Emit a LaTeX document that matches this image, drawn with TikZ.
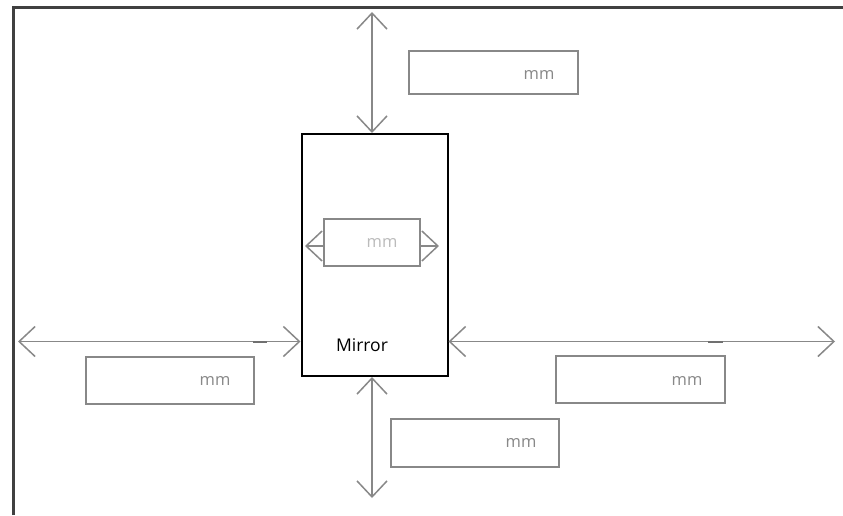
\documentclass[tikz,border=0pt]{standalone}
\usepackage{fontspec}
\setmainfont{Open Sans}
\usetikzlibrary{arrows.meta}
\definecolor{dimgray}{HTML}{888888}
\definecolor{framegray}{HTML}{404040}
\definecolor{lightmm}{HTML}{BBBBBB}
\definecolor{seggray}{HTML}{707070}
\tikzset{
  dim/.style={draw=dimgray, line width=1.5pt, {Straight Barb[length=16pt,width=30pt,line width=1.5pt]}-{Straight Barb[length=16pt,width=30pt,line width=1.5pt]}},
  half/.style={draw=dimgray, line width=1.5pt, -{Straight Barb[length=16pt,width=30pt,line width=1.5pt]}},
  mmbox/.style={draw=dimgray, line width=1.4pt, fill=white, inner sep=0pt},
  mmtext/.style={text=dimgray, font=\fontsize{16.5}{19}\selectfont, inner sep=0pt},
  seg/.style={draw=seggray, line width=2pt}
}
\begin{document}
\begin{tikzpicture}[x=1pt,y=-1pt]
\useasboundingbox (0,0) rectangle (843,515);
% frame
\draw[framegray, line width=2.6pt] (13.5,515) -- (13.5,7.5) -- (843,7.5);
% mirror
\node[draw=black, line width=2pt, minimum width=146pt, minimum height=242pt, inner sep=0pt] (mirror) at (374.5,255) {};
\node[font=\fontsize{17.5}{20}\selectfont, inner sep=0pt] (mirrorlabel) at (362,345) {Mirror};
% inner box
\node[mmbox, minimum width=96pt, minimum height=47pt] (innerbox) at (372,242.5) {};
\node[mmtext, text=lightmm] (innermm) at (382,243) {mm};
\coordinate (il) at (305,246);
\coordinate (ir) at (439,246);
\draw[half] (innerbox.west |- il) -- (il);
\draw[half] (innerbox.east |- ir) -- (ir);
% top
\coordinate (topend) at (372,12);
\draw[dim] (topend) -- (mirror.north -| topend);
\node[mmbox, minimum width=169pt, minimum height=43pt] (topbox) at (493.5,72.5) {};
\node[mmtext] (topmm) at (539,75) {mm};
% bottom
\coordinate (botend) at (372,498);
\draw[dim] (mirror.south -| botend) -- (botend);
\node[mmbox, minimum width=168pt, minimum height=48pt] (botbox) at (475,443) {};
\node[mmtext] (botmm) at (521,443) {mm};
% left
\coordinate (leftend) at (18,341.5);
\draw[dim] (leftend) -- (mirror.west |- leftend);
\coordinate (ls1) at (253,341.5);
\coordinate (ls2) at (267,341.5);
\draw[seg] (ls1) -- (ls2);
\node[mmbox, minimum width=168pt, minimum height=47pt] (leftbox) at (170,380.5) {};
\node[mmtext] (leftmm) at (215,381) {mm};
% right
\coordinate (rightend) at (835,341.5);
\draw[dim] (mirror.east |- rightend) -- (rightend);
\coordinate (rs1) at (708,341.5);
\coordinate (rs2) at (723,341.5);
\draw[seg] (rs1) -- (rs2);
\node[mmbox, minimum width=169pt, minimum height=47pt] (rightbox) at (640.5,379.5) {};
\node[mmtext] (rightmm) at (687,381) {mm};
\end{tikzpicture}
\end{document}
